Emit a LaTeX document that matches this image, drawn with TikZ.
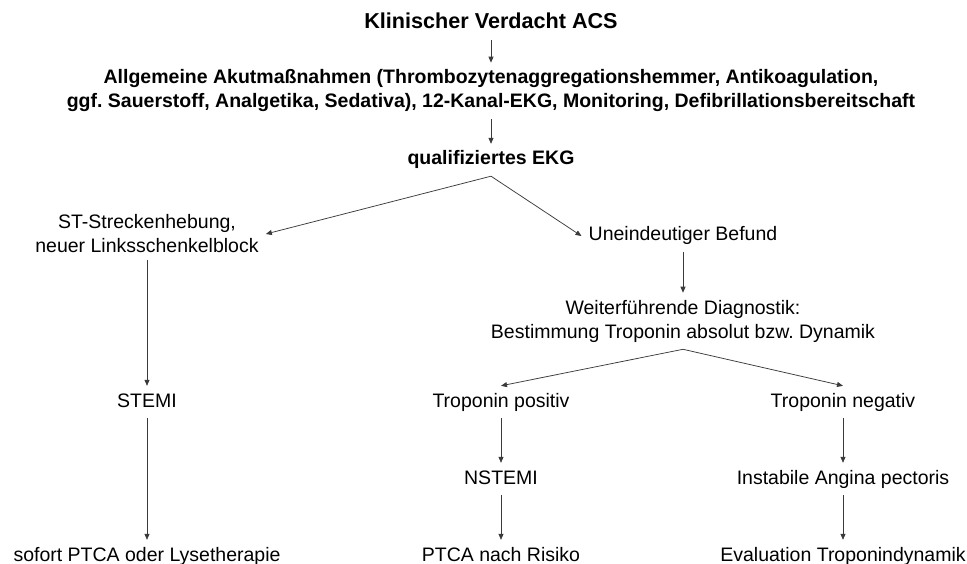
\documentclass[tikz,border=0pt]{standalone}
\usepackage{fontspec}
\setmainfont{Liberation Sans}
\usetikzlibrary{arrows.meta}
\definecolor{linec}{HTML}{3A3A3A}
\frenchspacing
\begin{document}
\begin{tikzpicture}[x=1pt,y=-1pt,
  basebox/.style={inner xsep=7pt, inner ysep=7pt, text=black},
  lbl/.style={basebox, text height=14pt, text depth=4pt, font=\fontsize{19.5}{24}\selectfont, anchor=base},
  blbl/.style={lbl, font=\fontsize{19.5}{24}\selectfont\bfseries},
  ml/.style={basebox, align=center, font=\fontsize{19.5}{24}\selectfont},
  arr/.style={draw=linec, line width=0.75pt, -{Triangle[length=6pt,width=5pt]}}
]
\useasboundingbox (0,0) rectangle (967,564);
\node[lbl, font=\fontsize{21.6}{26}\selectfont\bfseries] (t) at (491,29) {Klinischer Verdacht ACS};
\node[ml, font=\fontsize{19.5}{24}\selectfont\bfseries] (a) at (491,91) {Allgemeine Akutmaßnahmen (Thrombozytenaggregationshemmer, Antikoagulation,\\ggf. Sauerstoff, Analgetika, Sedativa), 12-Kanal-EKG, Monitoring, Defibrillationsbereitschaft};
\node[blbl] (q) at (491,165) {qualifiziertes EKG};
\node[ml] (st) at (147,234) {ST-Streckenhebung,\\neuer Linksschenkelblock};
\node[lbl] (u) at (683,241) {Uneindeutiger Befund};
\node[ml] (w) at (683,321) {Weiterführende Diagnostik:\\Bestimmung Troponin absolut bzw. Dynamik};
\node[lbl] (stemi) at (147,407) {STEMI};
\node[lbl] (tp) at (501,407) {Troponin positiv};
\node[lbl] (tn) at (843,407) {Troponin negativ};
\node[lbl] (ns) at (501,484) {NSTEMI};
\node[lbl] (ia) at (843,484) {Instabile Angina pectoris};
\node[lbl] (s1) at (147,561) {sofort PTCA oder Lysetherapie};
\node[lbl] (s2) at (501,561) {PTCA nach Risiko};
\node[lbl] (s3) at (843,561) {Evaluation Troponindynamik};
\draw[arr] (t.south) -- (a.north);
\draw[arr] (a.south) -- (q.north);
\draw[arr] (q.south) -- (st.east);
\draw[arr] (q.south) -- (u.west);
\draw[arr] (st.south) -- (stemi.north);
\draw[arr] (stemi.south) -- (s1.north);
\draw[arr] (u.south) -- (w.north);
\draw[arr] (w.south) -- (tp.north);
\draw[arr] (w.south) -- (tn.north);
\draw[arr] (tp.south) -- (ns.north);
\draw[arr] (ns.south) -- (s2.north);
\draw[arr] (tn.south) -- (ia.north);
\draw[arr] (ia.south) -- (s3.north);
\end{tikzpicture}
\end{document}
